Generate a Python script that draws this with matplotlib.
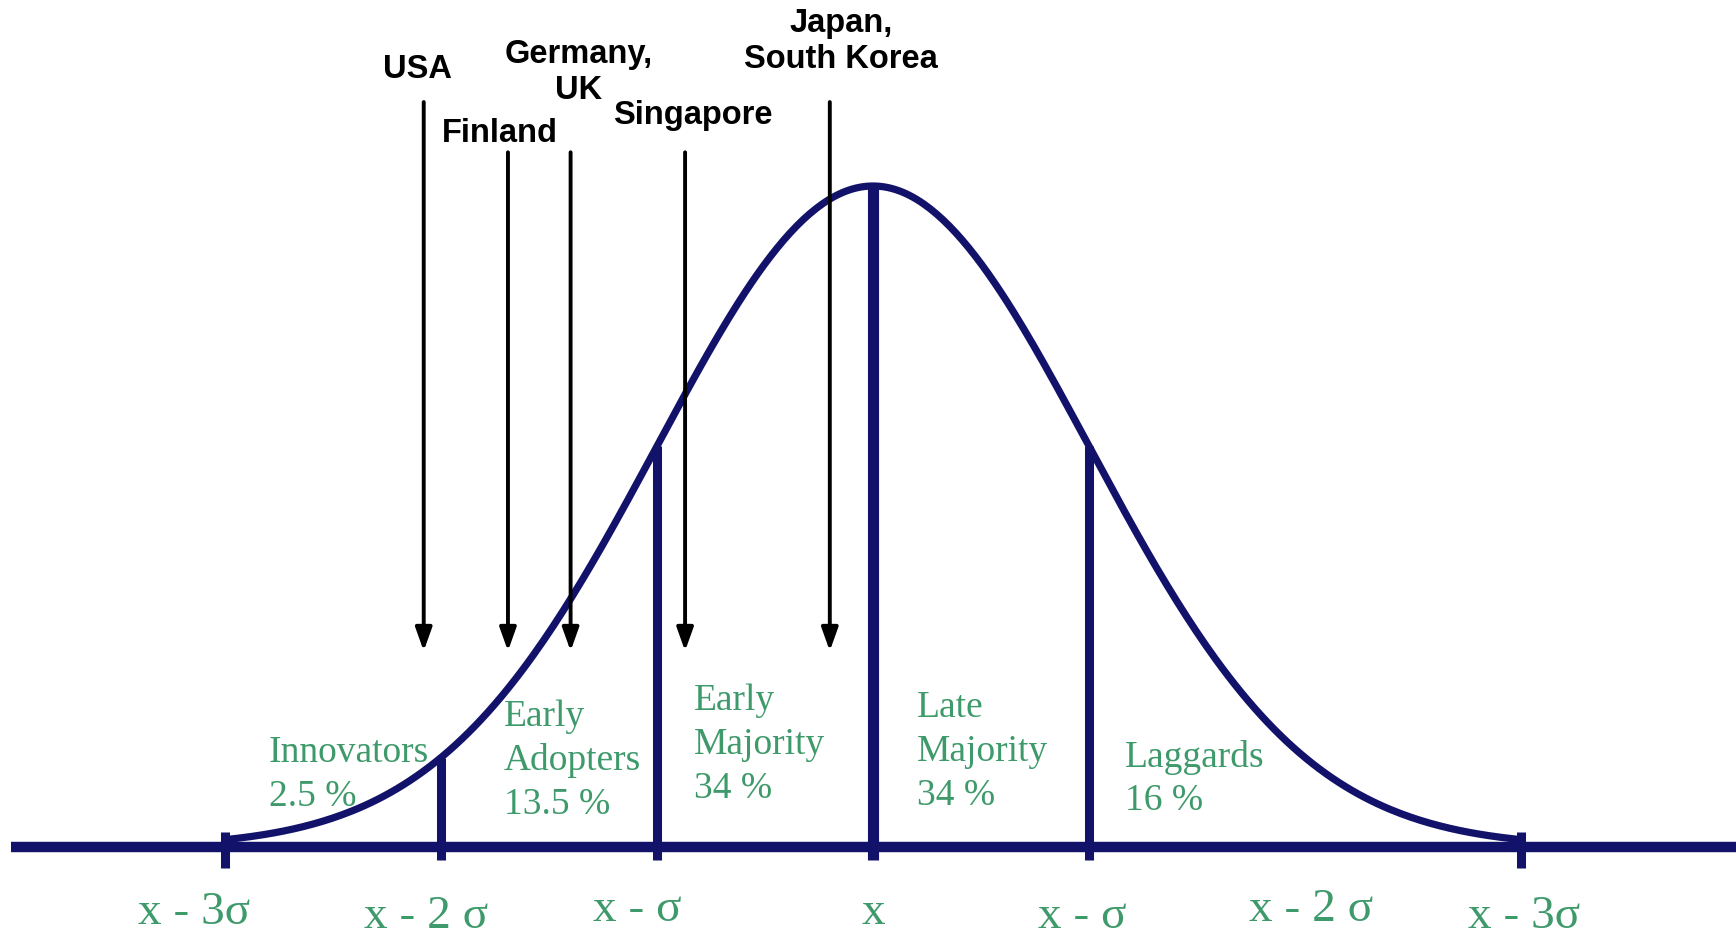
import numpy as np
import matplotlib.pyplot as plt

# positions in units of sigma, heights relative to the peak
tick_pos = [-3, -2, -1, 0, 1, 2, 3]
tick_labels = ['x - 3σ', 'x - 2 σ', 'x - σ', 'x', 'x - σ', 'x - 2 σ', 'x - 3σ']
end_ticks = [-3, 3]
dividers = [-2, -1, 0, 1]

countries = ['USA', 'Finland', 'Germany,\nUK', 'Singapore', 'Japan,\nSouth Korea']
country_pos = [-2.08, -1.69, -1.40, -0.87, -0.20]

groups = ['Innovators', 'Early\nAdopters', 'Early\nMajority', 'Late\nMajority', 'Laggards']
shares = ['2.5 %', '13.5 %', '34 %', '34 %', '16 %']

navy = '#12126b'
green = '#3f9a6b'

# layout (not data)
arrow_top = [1.127, 1.051, 1.051, 1.051, 1.127]
label_xy = [(-2.111, 1.177), (-1.727, 1.080), (-1.361, 1.172), (-0.833, 1.106), (-0.148, 1.219)]
group_xy = [(-2.796, 0.142), (-1.708, 0.197), (-0.829, 0.221), (0.204, 0.210), (1.167, 0.136)]
tick_dx = [-0.144, -0.069, -0.093, 0.0, -0.032, 0.028, 0.014]
tick_y = [-0.10, -0.106, -0.095, -0.10, -0.106, -0.095, -0.106]

center, sigma = 873, 216   # pixel position of mean and pixels per sigma
fig = plt.figure(figsize=(17.36, 9.36), dpi=100)
ax = fig.add_axes([0, 0, 1, 1])
ax.set_xlim(-center / sigma, (1736 - center) / sigma)
ax.set_ylim(-(936 - 847) / 661, 847 / 661)
ax.axis('off')

def bell(s):
    return np.exp(-np.asarray(s) ** 2 / 2)

# baseline
ax.plot([(11 - center) / sigma, 4.1], [0, 0], color=navy, lw=7.5,
        solid_capstyle='butt', zorder=3)

# curve
s = np.linspace(-3, 3, 400)
ax.plot(s, bell(s), color=navy, lw=5.2, zorder=3)

# dividers
for d in dividers:
    ax.plot([d, d], [-0.02, bell(d)], color=navy, lw=8 if d == 0 else 6.5,
            solid_capstyle='butt', zorder=3)
for d in end_ticks:
    ax.plot([d, d], [-0.032, 0.022], color=navy, lw=6.5, solid_capstyle='butt', zorder=3)

# country arrows
for name, x, top, (lx, ly) in zip(countries, country_pos, arrow_top, label_xy):
    ax.annotate('', xy=(x, 0.2965), xytext=(x, top),
                arrowprops=dict(arrowstyle='-|>,head_length=1.4,head_width=0.5',
                                color='black', lw=2.8, shrinkA=0, shrinkB=0),
                zorder=4)
    ax.text(lx, ly, name, ha='center', va='center', fontsize=23.5, fontweight='bold',
            family='Liberation Sans', linespacing=1.22, color='black')

# group labels
for g, p, (gx, gy) in zip(groups, shares, group_xy):
    lines = g.split('\n') + [p]
    for i, line in enumerate(lines):
        ax.text(gx, gy - i * 0.0666, line, ha='left', va='center', fontsize=27,
                family='Liberation Serif', color=green)

# sigma labels
for t, lab, dx, ty in zip(tick_pos, tick_labels, tick_dx, tick_y):
    ax.text(t + dx, ty, lab, ha='center', va='center', fontsize=34,
            family='Liberation Serif', color=green)

fig.savefig('out.png', dpi=100)
